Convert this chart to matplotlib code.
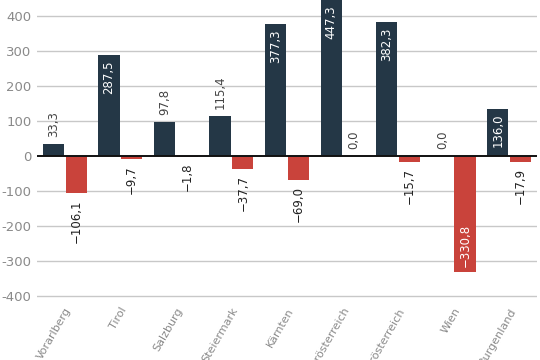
import numpy as np
import matplotlib
matplotlib.use("Agg")
import matplotlib.pyplot as plt

# -----------------------------------
# Data
# -----------------------------------
regions = ["Vorarlberg", "Tirol", "Salzburg", "Steiermark", "Kärnten",
           "Oberösterreich", "Niederösterreich", "Wien", "Burgenland"]
positive = [33.3, 287.5, 97.8, 115.4, 377.3, 447.3, 382.3, 0.0, 136.0]
negative = [-106.1, -9.7, -1.8, -37.7, -69.0, 0.0, -15.7, -330.8, -17.9]
yticks = [-400, -300, -200, -100, 0, 100, 200, 300, 400]

DARK = "#243746"
RED = "#c9433b"
GRID = "#c8c8c8"
TICK = "#8a8a8a"

plt.rcParams["font.family"] = ["DejaVu Sans"]

YMIN, YMAX = -404, 446
PX_PER_UNIT = 0.35

fig = plt.figure(figsize=(5.4, 3.6), dpi=100)
h = (YMAX - YMIN) * PX_PER_UNIT
ax = fig.add_axes([37 / 540, 1 - h / 360, 500 / 540, h / 360])

x = np.arange(len(regions))
w = 0.38
off = 0.205
ax.bar(x - off, positive, w, color=DARK, zorder=3)
ax.bar(x + off, negative, w, color=RED, zorder=3)

ax.set_xlim(-0.5, len(regions) - 0.5)
ax.set_ylim(YMIN, YMAX)

# gridlines
for t in yticks:
    if t == 0:
        ax.axhline(0, color="#111111", lw=1.4, zorder=4)
    else:
        ax.axhline(t, color=GRID, lw=1.0, zorder=1)

ax.set_yticks(yticks)
ax.set_yticklabels([str(t) for t in yticks], color=TICK, fontsize=9.5)
ax.tick_params(axis="y", length=0, pad=4)
ax.set_xticks(x)
ax.set_xticklabels(regions, rotation=60, ha="right", rotation_mode="anchor",
                   color=TICK, fontsize=8)
ax.tick_params(axis="x", length=0, pad=6)
for s in ax.spines.values():
    s.set_visible(False)


def fmt(v):
    return f"{v:.1f}".replace(".", ",").replace("-", "\u2212")


# value labels
for xi, v in zip(x - off, positive):
    if v > 130:
        ax.annotate(fmt(v), (xi, min(v, YMAX)), xytext=(0, -5), textcoords="offset pixels",
                    rotation=90, ha="center", va="top", color="white",
                    fontsize=8.5, zorder=5)
    else:
        ax.annotate(fmt(v), (xi, v), xytext=(0, 7), textcoords="offset pixels",
                    rotation=90, ha="center", va="bottom", color="#444444",
                    fontsize=8.5, zorder=5)
for xi, v in zip(x + off, negative):
    if v < -130:
        ax.annotate(fmt(v), (xi, v), xytext=(0, 5), textcoords="offset pixels",
                    rotation=90, ha="center", va="bottom", color="white",
                    fontsize=8.5, zorder=5)
    elif v == 0:
        ax.annotate(fmt(v), (xi, v), xytext=(0, 7), textcoords="offset pixels",
                    rotation=90, ha="center", va="bottom", color="#444444",
                    fontsize=8.5, zorder=5)
    else:
        ax.annotate(fmt(v), (xi, v), xytext=(0, -6), textcoords="offset pixels",
                    rotation=90, ha="center", va="top", color="#222222",
                    fontsize=8.5, zorder=5)

fig.savefig("out.png", dpi=100)
